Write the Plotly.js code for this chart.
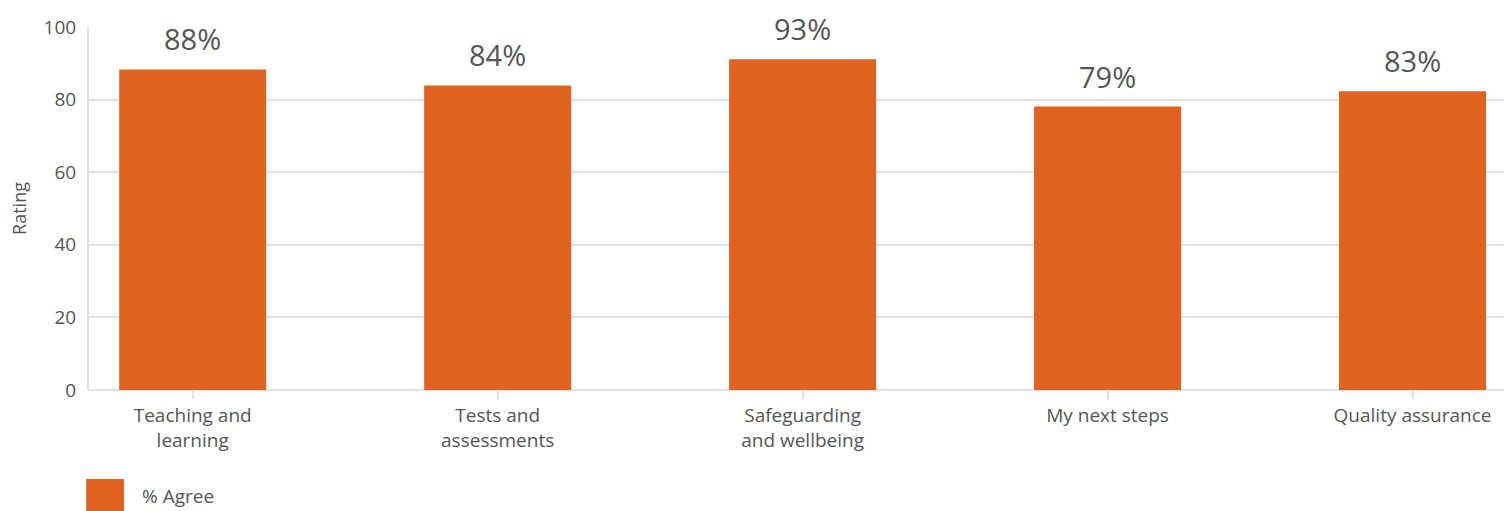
<!DOCTYPE html>
<html>
<head>
<meta charset="utf-8">
<script src="https://cdn.plot.ly/plotly-3.0.1.min.js"></script>
<style>html,body{margin:0;padding:0;background:#fff;}#chart{width:1504px;height:511px;}</style>
</head>
<body>
<div id="chart"></div>
<script>
const categories = ["Teaching and<br>learning", "Tests and<br>assessments", "Safeguarding<br>and wellbeing", "My next steps", "Quality assurance"];
const agreeValues = [88.3, 83.9, 91.1, 78.1, 82.3];
const valueLabels = ["88%", "84%", "93%", "79%", "83%"];
const seriesName = "% Agree";
const yTicks = [0, 20, 40, 60, 80, 100];

const FONT = "'Open Sans', sans-serif";
const ORANGE = "#e1621f";
const GRID = "#e1e1e1";
const TXT = "#555555";

const trace = {
  type: "bar",
  x: categories,
  y: agreeValues,
  name: seriesName,
  marker: {color: ORANGE},
  hoverinfo: "none",
  showlegend: false
};

const annotations = categories.map((c, i) => ({
  x: c, y: agreeValues[i], xref: "x", yref: "y",
  text: valueLabels[i], showarrow: false,
  yanchor: "bottom", yshift: 9,
  font: {family: FONT, size: 29, color: TXT}
}));
annotations.push({
  xref: "paper", yref: "paper", x: 0.036, y: -0.292,
  xanchor: "left", yanchor: "middle", showarrow: false,
  text: seriesName, font: {family: FONT, size: 19, color: TXT}
});

const layout = {
  width: 1504, height: 511,
  margin: {l: 89, r: 0, t: 27, b: 121, pad: 0},
  paper_bgcolor: "#fff", plot_bgcolor: "#fff",
  font: {family: FONT, color: TXT},
  bargap: 0.518,
  xaxis: {
    type: "category",
    range: [-0.34, 4.30],
    ticks: "outside", ticklen: 8, tickwidth: 2, tickcolor: GRID,
    showline: false, showgrid: false,
    tickfont: {family: FONT, size: 19, color: TXT},
    fixedrange: true
  },
  yaxis: {
    range: [0, 100],
    tickvals: yTicks,
    showgrid: true, gridcolor: GRID, gridwidth: 2,
    zeroline: true, zerolinecolor: GRID, zerolinewidth: 2,
    showline: true, linecolor: GRID, linewidth: 2,
    ticks: "", ticklabelstandoff: 7,
    tickfont: {family: FONT, size: 19, color: TXT},
    title: {text: "Rating", font: {family: FONT, size: 18, color: TXT}, standoff: 12},
    fixedrange: true
  },
  shapes: [{
    type: "rect", xref: "paper", yref: "paper",
    x0: -0.002, x1: 0.0247, y0: -0.245, y1: -0.335,
    fillcolor: ORANGE, line: {width: 0}
  }],
  annotations: annotations
};

Plotly.newPlot("chart", [trace], layout, {displayModeBar: false, staticPlot: true});
</script>
</body>
</html>
